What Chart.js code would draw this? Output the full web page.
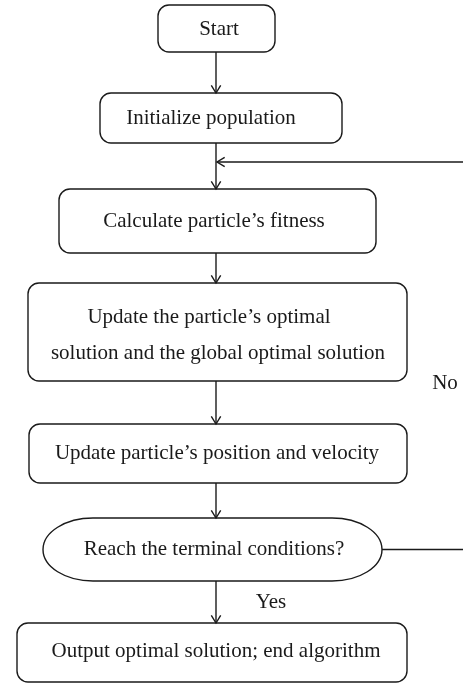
<!DOCTYPE html>
<html>
<head>
<meta charset="utf-8">
<script src="https://cdn.jsdelivr.net/npm/chart.js@4/dist/chart.umd.min.js"></script>
<style>
  body { margin: 0; background: #fff; }
</style>
</head>
<body>
<canvas id="flow" width="463" height="684"></canvas>
<script>
// steps of the flowchart, top to bottom
const steps = [
  ['Start'],
  ['Initialize population'],
  ["Calculate particle\u2019s fitness"],
  ["Update the particle\u2019s optimal", 'solution and the global optimal solution'],
  ["Update particle\u2019s position and velocity"],
  ['Reach the terminal conditions?'],
  ['Output optimal solution; end algorithm']
];
const stepKinds = ['box', 'box', 'box', 'box', 'box', 'decision', 'box'];
const branchLabels = ['Yes', 'No'];

// layout (page units): box edges and text anchors
const boxLeft   = [158, 100,  59,  28,  29,  43,  17];
const boxRight  = [275, 342, 376, 407, 407, 382, 407];
const boxTop    = [  5,  93, 189, 283, 424, 518, 623];
const boxBottom = [ 52, 143, 253, 381, 483, 581, 682];
const textX     = [219, 211, 214, 218, 217, 214, 216];
const textDy    = [1, 0, 0, 3, 0, 0, -1];
const lineDx    = [[0], [0], [0], [-9, 0], [0], [0], [0]];
const lineGap = 36;
const stemX = 216;
const loopY = 162;
const yesPos = [271, 602];
const noPos = [445, 383];

const ink = '#1a1a1a';
const font = '21px "Liberation Serif", "DejaVu Serif", serif';

const centers = steps.map((s, i) => ({ x: textX[i], y: (boxTop[i] + boxBottom[i]) / 2 + textDy[i] }));

function arrow(ctx, x1, y1, x2, y2) {
  ctx.beginPath();
  ctx.moveTo(x1, y1);
  ctx.lineTo(x2, y2);
  ctx.stroke();
  const a = Math.atan2(y2 - y1, x2 - x1);
  const len = 9, spread = 0.55;
  ctx.beginPath();
  ctx.moveTo(x2 - len * Math.cos(a - spread), y2 - len * Math.sin(a - spread));
  ctx.lineTo(x2, y2);
  ctx.lineTo(x2 - len * Math.cos(a + spread), y2 - len * Math.sin(a + spread));
  ctx.stroke();
}

const flowPlugin = {
  id: 'flow',
  afterDatasetsDraw(chart) {
    const ctx = chart.ctx;
    const sx = chart.scales.x, sy = chart.scales.y;
    const X = v => sx.getPixelForValue(v);
    const Y = v => sy.getPixelForValue(v);
    ctx.save();
    ctx.strokeStyle = ink;
    ctx.fillStyle = ink;
    ctx.lineWidth = 1.4;

    // shapes
    steps.forEach((lines, i) => {
      const x0 = X(boxLeft[i]), x1 = X(boxRight[i]);
      const y0 = Y(boxTop[i]), y1 = Y(boxBottom[i]);
      ctx.beginPath();
      if (stepKinds[i] === 'decision') {
        const ry = (y1 - y0) / 2, rx = 50, cy = (y0 + y1) / 2;
        ctx.moveTo(x0 + rx, y0);
        ctx.lineTo(x1 - rx, y0);
        ctx.ellipse(x1 - rx, cy, rx, ry, 0, -Math.PI / 2, Math.PI / 2);
        ctx.lineTo(x0 + rx, y1);
        ctx.ellipse(x0 + rx, cy, rx, ry, 0, Math.PI / 2, Math.PI * 1.5);
      } else {
        ctx.roundRect(x0, y0, x1 - x0, y1 - y0, 11);
      }
      ctx.stroke();

      ctx.font = font;
      ctx.textAlign = 'center';
      ctx.textBaseline = 'middle';
      const cy = Y(centers[i].y);
      lines.forEach((t, k) => {
        const off = (k - (lines.length - 1) / 2) * lineGap;
        ctx.fillText(t, X(centers[i].x + lineDx[i][k]), cy + off);
      });
    });

    // main flow arrows
    for (let i = 0; i < steps.length - 1; i++) {
      arrow(ctx, X(stemX), Y(boxBottom[i]), X(stemX), Y(boxTop[i + 1]));
    }

    // "No" loop back to fitness step
    const d = steps.length - 2;
    const dy = Y((boxTop[d] + boxBottom[d]) / 2);
    ctx.beginPath();
    ctx.moveTo(X(boxRight[d]), dy);
    ctx.lineTo(X(470), dy);
    ctx.lineTo(X(470), Y(loopY));
    ctx.stroke();
    arrow(ctx, X(470), Y(loopY), X(stemX + 1), Y(loopY));

    ctx.textAlign = 'center';
    ctx.fillText(branchLabels[0], X(yesPos[0]), Y(yesPos[1]));
    ctx.fillText(branchLabels[1], X(noPos[0]), Y(noPos[1]));
    ctx.restore();
  }
};

new Chart(document.getElementById('flow'), {
  type: 'scatter',
  data: {
    datasets: [{ data: centers, pointRadius: 0 }]
  },
  options: {
    responsive: false,
    animation: false,
    events: [],
    layout: { padding: 0 },
    plugins: { legend: { display: false }, tooltip: { enabled: false } },
    scales: {
      x: { type: 'linear', min: 0, max: 463, display: false },
      y: { type: 'linear', min: 0, max: 684, reverse: true, display: false }
    }
  },
  plugins: [flowPlugin]
});
</script>
</body>
</html>
